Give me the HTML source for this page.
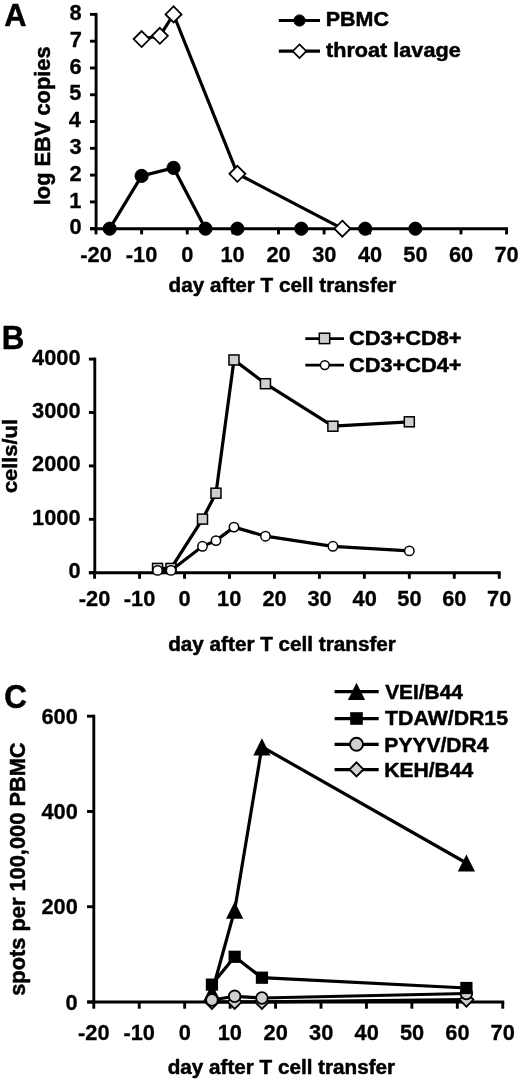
<!DOCTYPE html>
<html><head><meta charset="utf-8"><style>
html,body{margin:0;padding:0;background:#fff;}
body{width:520px;height:1083px;overflow:hidden;}
svg{display:block;}
text{font-family:"Liberation Sans",sans-serif;font-weight:bold;fill:#000;-webkit-font-smoothing:antialiased;}
svg{will-change:transform;}
</style></head><body>
<svg width="520" height="1083" viewBox="0 0 520 1083">
<rect width="520" height="1083" fill="#fff"/>
<line x1="96.1" y1="12.93" x2="96.1" y2="228.7" stroke="#000" stroke-width="2.9"/>
<line x1="90" y1="228.7" x2="508.03" y2="228.7" stroke="#000" stroke-width="2.9"/>
<line x1="90" y1="228.7" x2="96.1" y2="228.7" stroke="#000" stroke-width="2.9"/>
<line x1="90" y1="201.91" x2="96.1" y2="201.91" stroke="#000" stroke-width="2.9"/>
<line x1="90" y1="175.12" x2="96.1" y2="175.12" stroke="#000" stroke-width="2.9"/>
<line x1="90" y1="148.33" x2="96.1" y2="148.33" stroke="#000" stroke-width="2.9"/>
<line x1="90" y1="121.54" x2="96.1" y2="121.54" stroke="#000" stroke-width="2.9"/>
<line x1="90" y1="94.75" x2="96.1" y2="94.75" stroke="#000" stroke-width="2.9"/>
<line x1="90" y1="67.96" x2="96.1" y2="67.96" stroke="#000" stroke-width="2.9"/>
<line x1="90" y1="41.17" x2="96.1" y2="41.17" stroke="#000" stroke-width="2.9"/>
<line x1="90" y1="14.38" x2="96.1" y2="14.38" stroke="#000" stroke-width="2.9"/>
<line x1="96" y1="228.7" x2="96" y2="234.4" stroke="#000" stroke-width="2.9"/>
<line x1="141.62" y1="228.7" x2="141.62" y2="234.4" stroke="#000" stroke-width="2.9"/>
<line x1="187.24" y1="228.7" x2="187.24" y2="234.4" stroke="#000" stroke-width="2.9"/>
<line x1="232.86" y1="228.7" x2="232.86" y2="234.4" stroke="#000" stroke-width="2.9"/>
<line x1="278.48" y1="228.7" x2="278.48" y2="234.4" stroke="#000" stroke-width="2.9"/>
<line x1="324.1" y1="228.7" x2="324.1" y2="234.4" stroke="#000" stroke-width="2.9"/>
<line x1="369.72" y1="228.7" x2="369.72" y2="234.4" stroke="#000" stroke-width="2.9"/>
<line x1="415.34" y1="228.7" x2="415.34" y2="234.4" stroke="#000" stroke-width="2.9"/>
<line x1="460.96" y1="228.7" x2="460.96" y2="234.4" stroke="#000" stroke-width="2.9"/>
<line x1="506.58" y1="228.7" x2="506.58" y2="234.4" stroke="#000" stroke-width="2.9"/>
<text x="69.62" y="234.35" font-size="21.8" stroke="#000" stroke-width="0.3" stroke-linejoin="round">0</text>
<text x="69.3" y="207.56" font-size="21.8" stroke="#000" stroke-width="0.3" stroke-linejoin="round">1</text>
<text x="69.62" y="180.77" font-size="21.8" stroke="#000" stroke-width="0.3" stroke-linejoin="round">2</text>
<text x="69.51" y="153.98" font-size="21.8" stroke="#000" stroke-width="0.3" stroke-linejoin="round">3</text>
<text x="68.86" y="127.19" font-size="21.8" stroke="#000" stroke-width="0.3" stroke-linejoin="round">4</text>
<text x="69.3" y="100.4" font-size="21.8" stroke="#000" stroke-width="0.3" stroke-linejoin="round">5</text>
<text x="69.51" y="73.61" font-size="21.8" stroke="#000" stroke-width="0.3" stroke-linejoin="round">6</text>
<text x="69.73" y="46.82" font-size="21.8" stroke="#000" stroke-width="0.3" stroke-linejoin="round">7</text>
<text x="69.41" y="20.03" font-size="21.8" stroke="#000" stroke-width="0.3" stroke-linejoin="round">8</text>
<text x="80.25" y="261.85" font-size="21.8" stroke="#000" stroke-width="0.3" stroke-linejoin="round">-20</text>
<text x="125.87" y="261.85" font-size="21.8" stroke="#000" stroke-width="0.3" stroke-linejoin="round">-10</text>
<text x="181.19" y="261.85" font-size="21.8" stroke="#000" stroke-width="0.3" stroke-linejoin="round">0</text>
<text x="220.49" y="261.85" font-size="21.8" stroke="#000" stroke-width="0.3" stroke-linejoin="round">10</text>
<text x="266.44" y="261.85" font-size="21.8" stroke="#000" stroke-width="0.3" stroke-linejoin="round">20</text>
<text x="312.16" y="261.85" font-size="21.8" stroke="#000" stroke-width="0.3" stroke-linejoin="round">30</text>
<text x="357.89" y="261.85" font-size="21.8" stroke="#000" stroke-width="0.3" stroke-linejoin="round">40</text>
<text x="403.35" y="261.85" font-size="21.8" stroke="#000" stroke-width="0.3" stroke-linejoin="round">50</text>
<text x="448.92" y="261.85" font-size="21.8" stroke="#000" stroke-width="0.3" stroke-linejoin="round">60</text>
<text x="494.43" y="261.85" font-size="21.8" stroke="#000" stroke-width="0.3" stroke-linejoin="round">70</text>
<text x="4.28" y="25.95" font-size="32.17" textLength="22.31" lengthAdjust="spacingAndGlyphs" stroke="#000" stroke-width="0.5" stroke-linejoin="round">A</text>
<text x="168.62" y="292.25" font-size="20.83" textLength="227.73" lengthAdjust="spacingAndGlyphs" stroke="#000" stroke-width="0.5" stroke-linejoin="round">day after T cell transfer</text>
<text transform="rotate(-90)" x="-205.28" y="49.75" font-size="21.38" textLength="158.89" lengthAdjust="spacingAndGlyphs" stroke="#000" stroke-width="0.5" stroke-linejoin="round">log EBV copies</text>
<polyline fill="none" stroke="#000" stroke-width="3.2" stroke-linejoin="miter" stroke-miterlimit="10" points="109.69,228.7 141.62,175.92 173.55,167.89 205.49,228.7"/>
<circle cx="109.69" cy="228.7" r="6.6" fill="#000" stroke="#000" stroke-width="1"/>
<circle cx="141.62" cy="175.92" r="6.6" fill="#000" stroke="#000" stroke-width="1"/>
<circle cx="173.55" cy="167.89" r="6.6" fill="#000" stroke="#000" stroke-width="1"/>
<circle cx="205.49" cy="228.7" r="6.6" fill="#000" stroke="#000" stroke-width="1"/>
<circle cx="237.42" cy="228.7" r="6.6" fill="#000" stroke="#000" stroke-width="1"/>
<circle cx="301.29" cy="228.7" r="6.6" fill="#000" stroke="#000" stroke-width="1"/>
<circle cx="365.16" cy="228.7" r="6.6" fill="#000" stroke="#000" stroke-width="1"/>
<circle cx="415.34" cy="228.7" r="6.6" fill="#000" stroke="#000" stroke-width="1"/>
<polyline fill="none" stroke="#000" stroke-width="3.2" stroke-linejoin="miter" stroke-miterlimit="10" points="141.62,39.03 159.87,35.81 173.55,14.38 237.42,173.78 342.35,228.7"/>
<polygon points="141.62,31.03 149.62,39.03 141.62,47.03 133.62,39.03" fill="#fff" stroke="#000" stroke-width="1.8"/>
<polygon points="159.87,27.81 167.87,35.81 159.87,43.81 151.87,35.81" fill="#fff" stroke="#000" stroke-width="1.8"/>
<polygon points="173.55,6.38 181.55,14.38 173.55,22.38 165.55,14.38" fill="#fff" stroke="#000" stroke-width="1.8"/>
<polygon points="237.42,165.78 245.42,173.78 237.42,181.78 229.42,173.78" fill="#fff" stroke="#000" stroke-width="1.8"/>
<polygon points="342.35,220.7 350.35,228.7 342.35,236.7 334.35,228.7" fill="#fff" stroke="#000" stroke-width="1.8"/>
<line x1="278.8" y1="20.5" x2="320" y2="20.5" stroke="#000" stroke-width="3.2"/>
<circle cx="299.5" cy="20.5" r="5.6" fill="#000" stroke="#000" stroke-width="1"/>
<text x="325.76" y="26.25" font-size="20.14" textLength="63.12" lengthAdjust="spacingAndGlyphs" stroke="#000" stroke-width="0.5" stroke-linejoin="round">PBMC</text>
<line x1="278.8" y1="51.2" x2="320" y2="51.2" stroke="#000" stroke-width="3.2"/>
<polygon points="299.5,44.4 306.3,51.2 299.5,58 292.7,51.2" fill="#fff" stroke="#000" stroke-width="1.7"/>
<text x="326.03" y="56.75" font-size="19.72" textLength="134.66" lengthAdjust="spacingAndGlyphs" stroke="#000" stroke-width="0.5" stroke-linejoin="round">throat lavage</text>
<line x1="94.8" y1="357.65" x2="94.8" y2="572.7" stroke="#000" stroke-width="2.9"/>
<line x1="88.9" y1="572.7" x2="500.69" y2="572.7" stroke="#000" stroke-width="2.9"/>
<line x1="88.9" y1="572.7" x2="94.8" y2="572.7" stroke="#000" stroke-width="2.9"/>
<line x1="88.9" y1="519.3" x2="94.8" y2="519.3" stroke="#000" stroke-width="2.9"/>
<line x1="88.9" y1="465.9" x2="94.8" y2="465.9" stroke="#000" stroke-width="2.9"/>
<line x1="88.9" y1="412.5" x2="94.8" y2="412.5" stroke="#000" stroke-width="2.9"/>
<line x1="88.9" y1="359.1" x2="94.8" y2="359.1" stroke="#000" stroke-width="2.9"/>
<line x1="94.6" y1="572.7" x2="94.6" y2="578.8" stroke="#000" stroke-width="2.9"/>
<line x1="139.56" y1="572.7" x2="139.56" y2="578.8" stroke="#000" stroke-width="2.9"/>
<line x1="184.52" y1="572.7" x2="184.52" y2="578.8" stroke="#000" stroke-width="2.9"/>
<line x1="229.48" y1="572.7" x2="229.48" y2="578.8" stroke="#000" stroke-width="2.9"/>
<line x1="274.44" y1="572.7" x2="274.44" y2="578.8" stroke="#000" stroke-width="2.9"/>
<line x1="319.4" y1="572.7" x2="319.4" y2="578.8" stroke="#000" stroke-width="2.9"/>
<line x1="364.36" y1="572.7" x2="364.36" y2="578.8" stroke="#000" stroke-width="2.9"/>
<line x1="409.32" y1="572.7" x2="409.32" y2="578.8" stroke="#000" stroke-width="2.9"/>
<line x1="454.28" y1="572.7" x2="454.28" y2="578.8" stroke="#000" stroke-width="2.9"/>
<line x1="499.24" y1="572.7" x2="499.24" y2="578.8" stroke="#000" stroke-width="2.9"/>
<text x="68.42" y="578.15" font-size="21.8" stroke="#000" stroke-width="0.3" stroke-linejoin="round">0</text>
<text x="32.02" y="524.75" font-size="21.8" stroke="#000" stroke-width="0.3" stroke-linejoin="round">1000</text>
<text x="32.02" y="471.35" font-size="21.8" stroke="#000" stroke-width="0.3" stroke-linejoin="round">2000</text>
<text x="32.02" y="417.95" font-size="21.8" stroke="#000" stroke-width="0.3" stroke-linejoin="round">3000</text>
<text x="32.02" y="364.55" font-size="21.8" stroke="#000" stroke-width="0.3" stroke-linejoin="round">4000</text>
<text x="78.85" y="605.65" font-size="21.8" stroke="#000" stroke-width="0.3" stroke-linejoin="round">-20</text>
<text x="123.81" y="605.65" font-size="21.8" stroke="#000" stroke-width="0.3" stroke-linejoin="round">-10</text>
<text x="178.47" y="605.65" font-size="21.8" stroke="#000" stroke-width="0.3" stroke-linejoin="round">0</text>
<text x="217.11" y="605.65" font-size="21.8" stroke="#000" stroke-width="0.3" stroke-linejoin="round">10</text>
<text x="262.4" y="605.65" font-size="21.8" stroke="#000" stroke-width="0.3" stroke-linejoin="round">20</text>
<text x="307.46" y="605.65" font-size="21.8" stroke="#000" stroke-width="0.3" stroke-linejoin="round">30</text>
<text x="352.53" y="605.65" font-size="21.8" stroke="#000" stroke-width="0.3" stroke-linejoin="round">40</text>
<text x="397.33" y="605.65" font-size="21.8" stroke="#000" stroke-width="0.3" stroke-linejoin="round">50</text>
<text x="442.24" y="605.65" font-size="21.8" stroke="#000" stroke-width="0.3" stroke-linejoin="round">60</text>
<text x="487.09" y="605.65" font-size="21.8" stroke="#000" stroke-width="0.3" stroke-linejoin="round">70</text>
<text x="1.71" y="348.55" font-size="32.61" textLength="22.61" lengthAdjust="spacingAndGlyphs" stroke="#000" stroke-width="0.5" stroke-linejoin="round">B</text>
<text x="168.22" y="650.55" font-size="20" textLength="227.63" lengthAdjust="spacingAndGlyphs" stroke="#000" stroke-width="0.5" stroke-linejoin="round">day after T cell transfer</text>
<text transform="rotate(-90)" x="-493.12" y="17.45" font-size="20.69" textLength="74.12" lengthAdjust="spacingAndGlyphs" stroke="#000" stroke-width="0.5" stroke-linejoin="round">cells/ul</text>
<polyline fill="none" stroke="#000" stroke-width="3.2" stroke-linejoin="miter" stroke-miterlimit="10" points="157.54,568.4 171.03,568.4 202.5,519.1 215.99,493.2 233.98,359.95 265.45,383.72 332.89,426.22 409.32,421.79"/>
<rect x="152.54" y="563.4" width="10" height="10" fill="#cfcfcf" stroke="#000" stroke-width="1.5"/>
<rect x="166.03" y="563.4" width="10" height="10" fill="#cfcfcf" stroke="#000" stroke-width="1.5"/>
<rect x="197.5" y="514.1" width="10" height="10" fill="#cfcfcf" stroke="#000" stroke-width="1.5"/>
<rect x="210.99" y="488.2" width="10" height="10" fill="#cfcfcf" stroke="#000" stroke-width="1.5"/>
<rect x="228.98" y="354.95" width="10" height="10" fill="#cfcfcf" stroke="#000" stroke-width="1.5"/>
<rect x="260.45" y="378.72" width="10" height="10" fill="#cfcfcf" stroke="#000" stroke-width="1.5"/>
<rect x="327.89" y="421.22" width="10" height="10" fill="#cfcfcf" stroke="#000" stroke-width="1.5"/>
<rect x="404.32" y="416.79" width="10" height="10" fill="#cfcfcf" stroke="#000" stroke-width="1.5"/>
<polyline fill="none" stroke="#000" stroke-width="3.2" stroke-linejoin="miter" stroke-miterlimit="10" points="157.54,570.4 171.03,570.4 202.5,546.3 215.99,540.61 233.98,527.1 265.45,536.2 332.89,546.3 409.32,550.91"/>
<circle cx="157.54" cy="570.4" r="4.7" fill="#fff" stroke="#000" stroke-width="1.5"/>
<circle cx="171.03" cy="570.4" r="4.7" fill="#fff" stroke="#000" stroke-width="1.5"/>
<circle cx="202.5" cy="546.3" r="4.7" fill="#fff" stroke="#000" stroke-width="1.5"/>
<circle cx="215.99" cy="540.61" r="4.7" fill="#fff" stroke="#000" stroke-width="1.5"/>
<circle cx="233.98" cy="527.1" r="4.7" fill="#fff" stroke="#000" stroke-width="1.5"/>
<circle cx="265.45" cy="536.2" r="4.7" fill="#fff" stroke="#000" stroke-width="1.5"/>
<circle cx="332.89" cy="546.3" r="4.7" fill="#fff" stroke="#000" stroke-width="1.5"/>
<circle cx="409.32" cy="550.91" r="4.7" fill="#fff" stroke="#000" stroke-width="1.5"/>
<line x1="305.3" y1="338.6" x2="344" y2="338.6" stroke="#000" stroke-width="2.7"/>
<rect x="319.3" y="333.2" width="10.4" height="10.4" fill="#cfcfcf" stroke="#000" stroke-width="1.5"/>
<text x="348.98" y="345.25" font-size="20.71" textLength="112.62" lengthAdjust="spacingAndGlyphs" stroke="#000" stroke-width="0.5" stroke-linejoin="round">CD3+CD8+</text>
<line x1="305.3" y1="365.2" x2="344" y2="365.2" stroke="#000" stroke-width="2.7"/>
<circle cx="324.8" cy="365.1" r="4.4" fill="#fff" stroke="#000" stroke-width="1.5"/>
<text x="348.98" y="371.75" font-size="20.71" textLength="112.62" lengthAdjust="spacingAndGlyphs" stroke="#000" stroke-width="0.5" stroke-linejoin="round">CD3+CD4+</text>
<line x1="93.8" y1="714.75" x2="93.8" y2="1002" stroke="#000" stroke-width="2.9"/>
<line x1="87.3" y1="1002" x2="504.21" y2="1002" stroke="#000" stroke-width="2.9"/>
<line x1="87" y1="1002" x2="93.8" y2="1002" stroke="#000" stroke-width="2.9"/>
<line x1="87" y1="906.73" x2="93.8" y2="906.73" stroke="#000" stroke-width="2.9"/>
<line x1="87" y1="811.47" x2="93.8" y2="811.47" stroke="#000" stroke-width="2.9"/>
<line x1="87" y1="716.2" x2="93.8" y2="716.2" stroke="#000" stroke-width="2.9"/>
<line x1="93.8" y1="1002" x2="93.8" y2="1008.7" stroke="#000" stroke-width="2.9"/>
<line x1="139.24" y1="1002" x2="139.24" y2="1008.7" stroke="#000" stroke-width="2.9"/>
<line x1="184.68" y1="1002" x2="184.68" y2="1008.7" stroke="#000" stroke-width="2.9"/>
<line x1="230.12" y1="1002" x2="230.12" y2="1008.7" stroke="#000" stroke-width="2.9"/>
<line x1="275.56" y1="1002" x2="275.56" y2="1008.7" stroke="#000" stroke-width="2.9"/>
<line x1="321" y1="1002" x2="321" y2="1008.7" stroke="#000" stroke-width="2.9"/>
<line x1="366.44" y1="1002" x2="366.44" y2="1008.7" stroke="#000" stroke-width="2.9"/>
<line x1="411.88" y1="1002" x2="411.88" y2="1008.7" stroke="#000" stroke-width="2.9"/>
<line x1="457.32" y1="1002" x2="457.32" y2="1008.7" stroke="#000" stroke-width="2.9"/>
<line x1="502.76" y1="1002" x2="502.76" y2="1008.7" stroke="#000" stroke-width="2.9"/>
<text x="65.62" y="1009.55" font-size="21.8" stroke="#000" stroke-width="0.3" stroke-linejoin="round">0</text>
<text x="41.42" y="914.28" font-size="21.8" stroke="#000" stroke-width="0.3" stroke-linejoin="round">200</text>
<text x="41.42" y="819.02" font-size="21.8" stroke="#000" stroke-width="0.3" stroke-linejoin="round">400</text>
<text x="41.42" y="723.75" font-size="21.8" stroke="#000" stroke-width="0.3" stroke-linejoin="round">600</text>
<text x="78.05" y="1039.65" font-size="21.8" stroke="#000" stroke-width="0.3" stroke-linejoin="round">-20</text>
<text x="123.49" y="1039.65" font-size="21.8" stroke="#000" stroke-width="0.3" stroke-linejoin="round">-10</text>
<text x="178.63" y="1039.65" font-size="21.8" stroke="#000" stroke-width="0.3" stroke-linejoin="round">0</text>
<text x="217.75" y="1039.65" font-size="21.8" stroke="#000" stroke-width="0.3" stroke-linejoin="round">10</text>
<text x="263.52" y="1039.65" font-size="21.8" stroke="#000" stroke-width="0.3" stroke-linejoin="round">20</text>
<text x="309.06" y="1039.65" font-size="21.8" stroke="#000" stroke-width="0.3" stroke-linejoin="round">30</text>
<text x="354.61" y="1039.65" font-size="21.8" stroke="#000" stroke-width="0.3" stroke-linejoin="round">40</text>
<text x="399.89" y="1039.65" font-size="21.8" stroke="#000" stroke-width="0.3" stroke-linejoin="round">50</text>
<text x="445.28" y="1039.65" font-size="21.8" stroke="#000" stroke-width="0.3" stroke-linejoin="round">60</text>
<text x="490.61" y="1039.65" font-size="21.8" stroke="#000" stroke-width="0.3" stroke-linejoin="round">70</text>
<text x="4.2" y="708.25" font-size="33.57" textLength="22.6" lengthAdjust="spacingAndGlyphs" stroke="#000" stroke-width="0.5" stroke-linejoin="round">C</text>
<text x="167.72" y="1074.25" font-size="20.41" textLength="227.33" lengthAdjust="spacingAndGlyphs" stroke="#000" stroke-width="0.5" stroke-linejoin="round">day after T cell transfer</text>
<text transform="rotate(-90)" x="-995.81" y="24.75" font-size="22.75" textLength="253.43" lengthAdjust="spacingAndGlyphs" stroke="#000" stroke-width="0.5" stroke-linejoin="round">spots per 100,000 PBMC</text>
<polyline fill="none" stroke="#000" stroke-width="3.2" stroke-linejoin="miter" stroke-miterlimit="10" points="211.94,992.47 234.66,910.21 261.93,746.78 466.41,863.01"/>
<polygon points="211.94,983.87 220.54,1001.07 203.34,1001.07" fill="#000" stroke="#000" stroke-width="0.01"/>
<polygon points="234.66,901.61 243.26,918.81 226.06,918.81" fill="#000" stroke="#000" stroke-width="0.01"/>
<polygon points="261.93,738.18 270.53,755.38 253.33,755.38" fill="#000" stroke="#000" stroke-width="0.01"/>
<polygon points="466.41,854.41 475.01,871.61 457.81,871.61" fill="#000" stroke="#000" stroke-width="0.01"/>
<polyline fill="none" stroke="#000" stroke-width="3.2" stroke-linejoin="miter" stroke-miterlimit="10" points="211.94,1001.86 234.66,1001.86 261.93,1001.86 466.41,999.62"/>
<polygon points="211.94,994.86 218.94,1001.86 211.94,1008.86 204.94,1001.86" fill="#cfcfcf" stroke="#000" stroke-width="1.8"/>
<polygon points="234.66,994.86 241.66,1001.86 234.66,1008.86 227.66,1001.86" fill="#cfcfcf" stroke="#000" stroke-width="1.8"/>
<polygon points="261.93,994.86 268.93,1001.86 261.93,1008.86 254.93,1001.86" fill="#cfcfcf" stroke="#000" stroke-width="1.8"/>
<polygon points="466.41,992.62 473.41,999.62 466.41,1006.62 459.41,999.62" fill="#cfcfcf" stroke="#000" stroke-width="1.8"/>
<polyline fill="none" stroke="#000" stroke-width="3.2" stroke-linejoin="miter" stroke-miterlimit="10" points="211.94,1000 234.66,996.28 261.93,998 466.41,993.52"/>
<circle cx="211.94" cy="1000" r="5.8" fill="#cfcfcf" stroke="#000" stroke-width="1.8"/>
<circle cx="234.66" cy="996.28" r="5.8" fill="#cfcfcf" stroke="#000" stroke-width="1.8"/>
<circle cx="261.93" cy="998" r="5.8" fill="#cfcfcf" stroke="#000" stroke-width="1.8"/>
<circle cx="466.41" cy="993.52" r="5.8" fill="#cfcfcf" stroke="#000" stroke-width="1.8"/>
<polyline fill="none" stroke="#000" stroke-width="3.2" stroke-linejoin="miter" stroke-miterlimit="10" points="211.94,984.61 234.66,956.8 261.93,977.71 466.41,988"/>
<rect x="205.84" y="978.51" width="12.2" height="12.2" fill="#000" stroke="#000" stroke-width="0.01"/>
<rect x="228.56" y="950.7" width="12.2" height="12.2" fill="#000" stroke="#000" stroke-width="0.01"/>
<rect x="255.83" y="971.61" width="12.2" height="12.2" fill="#000" stroke="#000" stroke-width="0.01"/>
<rect x="460.31" y="981.9" width="12.2" height="12.2" fill="#000" stroke="#000" stroke-width="0.01"/>
<line x1="334.6" y1="691.6" x2="378.7" y2="691.6" stroke="#000" stroke-width="3.2"/>
<polygon points="356.5,682.8 365.1,700 347.9,700" fill="#000" stroke="#000" stroke-width="0.01"/>
<text x="385.14" y="699.25" font-size="21.14" textLength="77.8" lengthAdjust="spacingAndGlyphs" stroke="#000" stroke-width="0.5" stroke-linejoin="round">VEI/B44</text>
<line x1="334.6" y1="718.6" x2="378.7" y2="718.6" stroke="#000" stroke-width="3.2"/>
<rect x="350.2" y="712.2" width="12.6" height="12.6" fill="#000" stroke="#000" stroke-width="0.01"/>
<text x="385.14" y="725.25" font-size="20" textLength="122.92" lengthAdjust="spacingAndGlyphs" stroke="#000" stroke-width="0.5" stroke-linejoin="round">TDAW/DR15</text>
<line x1="334.6" y1="744.3" x2="378.7" y2="744.3" stroke="#000" stroke-width="3.2"/>
<circle cx="356.5" cy="744.3" r="6.5" fill="#cfcfcf" stroke="#000" stroke-width="1.9"/>
<text x="384.38" y="752.15" font-size="20.71" textLength="104" lengthAdjust="spacingAndGlyphs" stroke="#000" stroke-width="0.5" stroke-linejoin="round">PYYV/DR4</text>
<line x1="334.6" y1="769.6" x2="378.7" y2="769.6" stroke="#000" stroke-width="3.2"/>
<polygon points="356.5,762.4 363.5,769.4 356.5,776.4 349.5,769.4" fill="#cfcfcf" stroke="#000" stroke-width="1.9"/>
<text x="384.18" y="777.15" font-size="20.43" textLength="89.15" lengthAdjust="spacingAndGlyphs" stroke="#000" stroke-width="0.5" stroke-linejoin="round">KEH/B44</text>
</svg>
</body></html>
